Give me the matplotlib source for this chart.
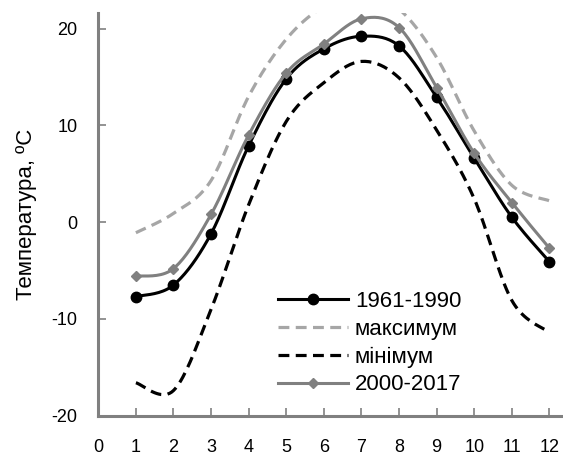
import matplotlib
matplotlib.use('Agg')
import matplotlib.pyplot as plt
import numpy as np

# monthly mean temperature, degrees C
months = [1, 2, 3, 4, 5, 6, 7, 8, 9, 10, 11, 12]
t_1961_1990 = [-7.7, -6.5, -1.2, 7.9, 14.8, 17.9, 19.2, 18.2, 12.9, 6.6, 0.5, -4.1]
t_max = [-1.1, 0.9, 4.3, 13.0, 18.9, 22.3, 23.6, 22.0, 17.0, 9.4, 3.8, 2.2]
t_min = [-16.6, -17.4, -9.0, 1.8, 10.4, 14.4, 16.6, 14.9, 9.5, 2.4, -8.1, -11.4]
t_2000_2017 = [-5.6, -4.8, 0.8, 9.0, 15.4, 18.4, 21.0, 20.1, 13.9, 7.1, 2.0, -2.7]

x_ticklabels = [str(i) for i in range(0, 13)]
y_ticks = [-20, -10, 0, 10, 20]


def smooth(xs, ys, n=20):
    # Excel-like smoothed line: Catmull-Rom segments drawn as cubic Bezier
    xs = np.asarray(xs, float)
    ys = np.asarray(ys, float)
    px = np.concatenate([[xs[0]], xs, [xs[-1]]])
    py = np.concatenate([[ys[0]], ys, [ys[-1]]])
    out_x, out_y = [], []
    t = np.linspace(0, 1, n, endpoint=False)
    for i in range(1, len(xs)):
        p0 = np.array([px[i], py[i]])
        p3 = np.array([px[i + 1], py[i + 1]])
        p1 = p0 + (p3 - np.array([px[i - 1], py[i - 1]])) / 6
        p2 = p3 - (np.array([px[i + 2], py[i + 2]]) - p0) / 6
        b = ((1 - t) ** 3)[:, None] * p0 + (3 * (1 - t) ** 2 * t)[:, None] * p1 \
            + (3 * (1 - t) * t ** 2)[:, None] * p2 + (t ** 3)[:, None] * p3
        out_x.extend(b[:, 0])
        out_y.extend(b[:, 1])
    out_x.append(xs[-1])
    out_y.append(ys[-1])
    return np.array(out_x), np.array(out_y), [i * n for i in range(len(xs))]


plt.rcParams['font.family'] = ['Liberation Sans', 'DejaVu Sans']

fig = plt.figure(figsize=(5.63, 4.55), dpi=100)
ax = fig.add_axes([0.1746, 0.0864, 0.8254, 0.885])

sx, sy, marks = smooth(months, t_1961_1990)
ax.plot(sx, sy, color='black', linewidth=2.2, marker='o', markersize=7.5,
        markevery=marks, label='1961-1990', zorder=3)

sx, sy, _ = smooth(months, t_max)
ax.plot(sx, sy, color='#a6a6a6', linewidth=2.3, dashes=(3.4, 2.0),
        label='максимум', zorder=2)

sx, sy, _ = smooth(months, t_min)
ax.plot(sx, sy, color='black', linewidth=2.3, dashes=(3.4, 2.0),
        label='мінімум', zorder=2)

sx, sy, marks = smooth(months, t_2000_2017)
ax.plot(sx, sy, color='#808080', linewidth=2.2, marker='D', markersize=5.5,
        markevery=marks, label='2000-2017', zorder=4)

ax.set_xlim(0, 12.36)
ax.set_ylim(-20, 21.6)
ax.set_xticks(range(0, 13))
ax.set_xticklabels(x_ticklabels, fontsize=13)
ax.set_yticks(y_ticks)
ax.set_yticklabels([str(v) for v in y_ticks], fontsize=13)
ax.tick_params(axis='both', direction='in', length=6, width=1.2, color='#808080')
ax.tick_params(axis='x', pad=17)
ax.tick_params(axis='y', pad=15)

for side in ['top', 'right']:
    ax.spines[side].set_visible(False)
for side in ['left', 'bottom']:
    ax.spines[side].set_color('#808080')
    ax.spines[side].set_linewidth(2.2)

ax.set_ylabel('Температура, ºC', fontsize=16)
ax.yaxis.set_label_coords(-0.132, 0.5)

ax.legend(loc='lower left', bbox_to_anchor=(0.363, 0.023), frameon=False, fontsize=16,
          handlelength=3.15, handletextpad=0.3, labelspacing=0.3, borderpad=0)

fig.savefig('out.png', dpi=100)
